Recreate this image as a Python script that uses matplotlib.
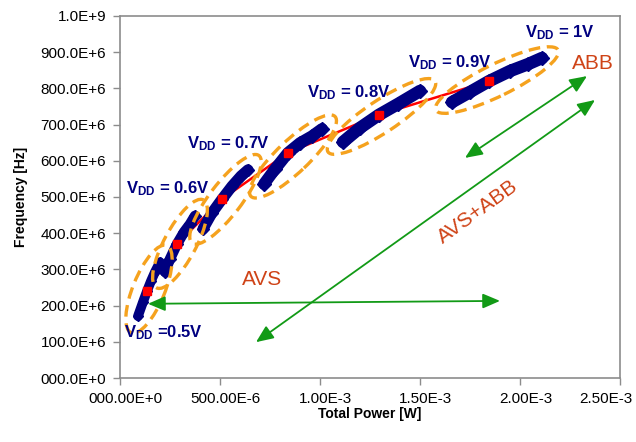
import numpy as np
import matplotlib
matplotlib.use("Agg")
import matplotlib.pyplot as plt
from matplotlib.patches import Ellipse
from matplotlib.transforms import IdentityTransform, ScaledTranslation

plt.rcParams['font.family'] = 'Liberation Sans'
plt.rcParams['mathtext.fontset'] = 'custom'
plt.rcParams['mathtext.rm'] = 'Liberation Sans'
plt.rcParams['mathtext.bf'] = 'Liberation Sans:bold'

# --- datos: barrido de body bias para cada VDD (potencia [W], frecuencia [Hz]) ---
vdd_labels = ['=0.5V', '= 0.6V', '= 0.7V', '= 0.8V', '= 0.9V', '= 1V']

power_05 = [0.090e-3, 0.115e-3, 0.135e-3, 0.155e-3, 0.175e-3, 0.200e-3]
freq_05 = [171e6, 210e6, 240e6, 268e6, 293e6, 320e6]

power_06 = [0.225e-3, 0.250e-3, 0.285e-3, 0.320e-3, 0.350e-3, 0.375e-3]
freq_06 = [293e6, 329e6, 370e6, 403e6, 425e6, 448e6]

power_07 = [0.415e-3, 0.460e-3, 0.510e-3, 0.560e-3, 0.605e-3, 0.640e-3]
freq_07 = [412e6, 456e6, 494e6, 530e6, 558e6, 575e6]

power_08 = [0.720e-3, 0.775e-3, 0.840e-3, 0.900e-3, 0.960e-3, 1.010e-3]
freq_08 = [536e6, 577e6, 622e6, 649e6, 668e6, 688e6]

power_09 = [1.115e-3, 1.200e-3, 1.295e-3, 1.390e-3, 1.500e-3]
freq_09 = [652e6, 691e6, 727e6, 757e6, 793e6]

power_10 = [1.660e-3, 1.750e-3, 1.845e-3, 1.950e-3, 2.040e-3, 2.110e-3]
freq_10 = [762e6, 790e6, 820e6, 848e6, 867e6, 884e6]

# punto nominal (sin body bias) de cada VDD
nom_power = [0.135e-3, 0.285e-3, 0.510e-3, 0.840e-3, 1.295e-3, 1.845e-3]
nom_freq = [240e6, 370e6, 494e6, 622e6, 727e6, 820e6]

xticks = [0, 0.5e-3, 1.0e-3, 1.5e-3, 2.0e-3, 2.5e-3]
xtick_labels = ['000.00E+0', '500.00E-6', '1.00E-3', '1.50E-3', '2.00E-3', '2.50E-3']
yticks = [0, 100e6, 200e6, 300e6, 400e6, 500e6, 600e6, 700e6, 800e6, 900e6, 1000e6]
ytick_labels = ['000.0E+0', '100.0E+6', '200.0E+6', '300.0E+6', '400.0E+6', '500.0E+6',
                '600.0E+6', '700.0E+6', '800.0E+6', '900.0E+6', '1.0E+9']

sweeps = [(power_05, freq_05), (power_06, freq_06), (power_07, freq_07),
          (power_08, freq_08), (power_09, freq_09), (power_10, freq_10)]
# grosor de cada nube (las de VDD alto son mas anchas)
cloud_lw = [7, 7.5, 8, 8.5, 9, 9]

NAVY = '#000080'
ORANGE = '#f5a21e'
GREEN = '#129a16'
RUST = '#cf4317'

fig = plt.figure(figsize=(6.36, 4.42), dpi=100)
ax = fig.add_axes([120 / 636, 64 / 442, 500 / 636, 362 / 442])
ax.set_xlim(0, 2.5e-3)
ax.set_ylim(0, 1.0e9)

# curva roja que une los puntos nominales (por debajo de las nubes)
ax.plot(nom_power, nom_freq, color='red', lw=1.8, zorder=2)

# nubes de puntos de cada barrido
for (pw, fq), lw in zip(sweeps, cloud_lw):
    ax.plot(pw, fq, color=NAVY, lw=lw, solid_capstyle='round',
            solid_joinstyle='round', zorder=3)
    ax.plot(pw, fq, ls='none', marker='D', ms=lw - 1.5, color=NAVY, zorder=3)

ax.plot(nom_power, nom_freq, ls='none', marker='s', ms=6, color='red', zorder=4)

# elipses discontinuas alrededor de cada barrido (en pixeles)
for pw, fq in sweeps:
    p0 = ax.transData.transform((pw[0], fq[0]))
    p1 = ax.transData.transform((pw[-1], fq[-1]))
    c = (p0 + p1) / 2
    d = p1 - p0
    length = np.hypot(d[0], d[1]) + 36
    ang = np.degrees(np.arctan2(d[1], d[0]))
    e = Ellipse(c, length, 32, angle=ang, fill=False, ec=ORANGE, lw=2.4,
                ls=(0, (3.5, 2)), transform=IdentityTransform(), zorder=5)
    ax.add_patch(e)

# etiquetas de VDD
label_pos = [(0.02e-3, 113e6), (0.03e-3, 511e6), (0.335e-3, 635e6),
             (0.935e-3, 776e6), (1.44e-3, 859e6), (2.025e-3, 942e6)]
for txt, (lx, ly) in zip(vdd_labels, label_pos):
    ax.text(lx, ly, r'$\mathbf{V_{DD}}$ ' + txt, color=NAVY, fontsize=12,
            fontweight='bold', ha='left', va='baseline', zorder=6)

# flechas verdes
arrow = dict(arrowstyle='<|-|>,head_length=0.7,head_width=0.3', color=GREEN,
             lw=1.3, mutation_scale=15, shrinkA=0, shrinkB=0)
ax.annotate('', xy=(1.90e-3, 213e6), xytext=(0.14e-3, 205e6), arrowprops=arrow, zorder=6)
ax.annotate('', xy=(2.375e-3, 768e6), xytext=(0.68e-3, 99e6), arrowprops=arrow, zorder=6)
ax.annotate('', xy=(2.335e-3, 834e6), xytext=(1.725e-3, 608e6), arrowprops=arrow, zorder=6)

ax.text(0.71e-3, 271e6, 'AVS', color=RUST, fontsize=15, ha='center', va='center')
ax.text(1.79e-3, 459e6, 'AVS+ABB', color=RUST, fontsize=15, ha='center', va='center',
        rotation=36)
ax.text(2.365e-3, 870e6, 'ABB', color=RUST, fontsize=15, ha='center', va='center')

# ejes
ax.set_xticks(xticks)
ax.set_xticklabels(xtick_labels)
ax.set_yticks(yticks)
ax.set_yticklabels(ytick_labels)
for sp in ax.spines.values():
    sp.set_color('#8c8c8c')
    sp.set_linewidth(1.2)
ax.tick_params(colors='#8c8c8c', labelcolor='black', labelsize=11, length=5, width=1)
ax.tick_params(axis='y', pad=5)
ax.tick_params(axis='x', pad=5)

shift = ScaledTranslation(4 / 72, 0, fig.dpi_scale_trans)
for lab in ax.get_xticklabels():
    lab.set_transform(lab.get_transform() + shift)
last = ax.get_xticklabels()[-1]
last.set_ha('right')
last.set_transform(last.get_transform() + ScaledTranslation(5 / 72, 0, fig.dpi_scale_trans))

ax.set_xlabel('Total Power [W]', fontsize=10, fontweight='bold', labelpad=1)
ax.set_ylabel('Frequency [Hz]', fontsize=10, fontweight='bold', labelpad=9)

fig.savefig('out.png', dpi=100)
